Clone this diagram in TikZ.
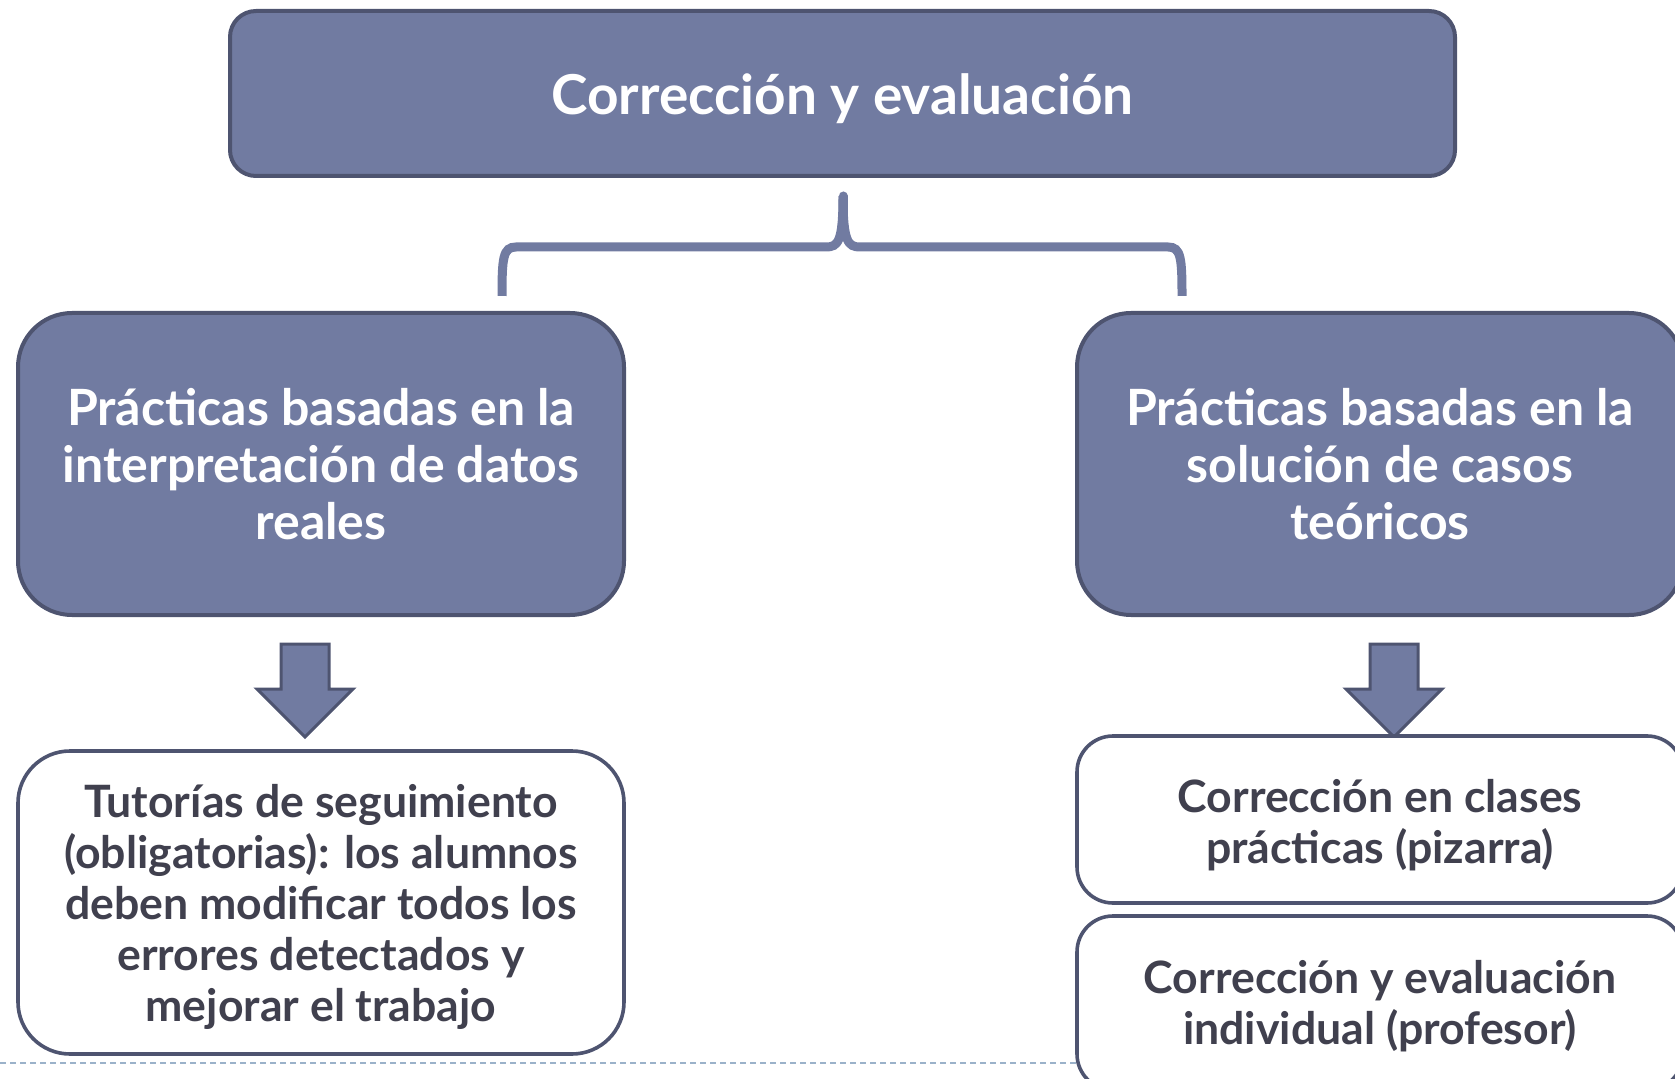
\documentclass[tikz,border=0pt]{standalone}
\usepackage{fontspec}
\setmainfont{Lato}
\definecolor{boxfill}{RGB}{113,123,161}
\definecolor{boxline}{RGB}{78,84,112}
\definecolor{darktext}{RGB}{64,64,78}
\definecolor{dashcol}{RGB}{155,178,202}
\tikzset{
  bluebox/.style={draw=boxline, line width=2pt, fill=boxfill, inner sep=0pt},
  whitebox/.style={draw=boxline, line width=1.8pt, fill=white, inner sep=0pt},
  bluetext/.style={text=white, font=\bfseries, align=center, inner sep=0pt},
  darkbody/.style={text=darktext, font=\bfseries, align=center, inner sep=0pt},
  bracestyle/.style={draw=boxfill, line width=4.5pt},
  blockarrow/.style={draw=boxline, line width=1.5pt, fill=boxfill, line join=miter},
  dashline/.style={draw=dashcol, line width=1pt, dash pattern=on 3pt off 2pt}
}
\begin{document}
\begin{tikzpicture}[x=0.5pt,y=-0.5pt]
\useasboundingbox (0,0) rectangle (1675,1079);
\clip (0,0) rectangle (1675,1079);

% top box
\node[bluebox, minimum width=612.5pt, minimum height=82.5pt, rounded corners=13pt] (top) at (842.5,93.5) {};
\node[bluetext, font=\bfseries\fontsize{27.5}{32}\selectfont] (toptxt) at ([yshift=-2.7pt]top.center) {Corrección y evaluación};

% middle boxes
\node[bluebox, minimum width=303pt, minimum height=151pt, rounded corners=27pt] (left) at (321,464) {};
\node[bluetext, font=\bfseries\fontsize{25}{28.5}\selectfont] (lefttxt) at (left.center)
  {Prácticas basadas en la\\interpretación de datos\\reales};
\node[bluebox, minimum width=303pt, minimum height=151pt, rounded corners=27pt] (right) at (1380,464) {};
\node[bluetext, font=\bfseries\fontsize{25}{28.5}\selectfont] (righttxt) at (right.center)
  {Prácticas basadas en la\\solución de casos\\teóricos};

% brace
\coordinate (tip) at (843,196);
\coordinate (bl) at (502,296);
\coordinate (br) at (1182,296);
\draw[bracestyle] (bl) .. controls (502,258) and (503,247) .. (516,247) -- (826,247)
  .. controls (838,247) and (843,242) .. (tip);
\draw[bracestyle] (br) .. controls (1182,258) and (1181,247) .. (1168,247) -- (860,247)
  .. controls (848,247) and (843,242) .. (tip);
\draw[bracestyle, line cap=round] (tip) -- (843,215);

% block arrows
\coordinate (la) at (305,644);
\coordinate (ra) at (1394,644);
\draw[blockarrow] ([xshift=-12pt]la) -- ([xshift=12pt]la) -- ([xshift=12pt,yshift=-22.5pt]la)
  -- ([xshift=24pt,yshift=-22.5pt]la) -- ([yshift=-46.5pt]la) -- ([xshift=-24pt,yshift=-22.5pt]la)
  -- ([xshift=-12pt,yshift=-22.5pt]la) -- cycle;
\draw[blockarrow] ([xshift=-12pt]ra) -- ([xshift=12pt]ra) -- ([xshift=12pt,yshift=-22.5pt]ra)
  -- ([xshift=24pt,yshift=-22.5pt]ra) -- ([yshift=-46.5pt]ra) -- ([xshift=-24pt,yshift=-22.5pt]ra)
  -- ([xshift=-12pt,yshift=-22.5pt]ra) -- cycle;

% dashed line
\coordinate (dl) at (0,1063);
\draw[dashline] (dl) -- (1077,1063);

% bottom boxes
\node[whitebox, minimum width=303pt, minimum height=151.5pt, rounded corners=26pt] (bl1) at (321,902.5) {};
\node[darkbody, font=\bfseries\fontsize{22.3}{25.5}\selectfont] (bl1txt) at ([yshift=-2.1pt]bl1.center)
  {Tutorías de seguimiento\\(obligatorias): los alumnos\\deben modificar todos los\\errores detectados y\\mejorar el trabajo};
\node[whitebox, minimum width=303pt, minimum height=83.5pt, rounded corners=18pt] (rb1) at (1380,819.5) {};
\node[darkbody, font=\bfseries\fontsize{22.3}{25.5}\selectfont] (rb1txt) at ([yshift=-2.7pt]rb1.center)
  {Corrección en clases\\prácticas (pizarra)};
\node[whitebox, minimum width=303pt, minimum height=87pt, rounded corners=18pt] (rb2) at (1380,1003) {};
\node[darkbody, font=\bfseries\fontsize{22.3}{25.5}\selectfont] (rb2txt) at ([yshift=-1.6pt]rb2.center)
  {Corrección y evaluación\\individual (profesor)};
\end{tikzpicture}
\end{document}
